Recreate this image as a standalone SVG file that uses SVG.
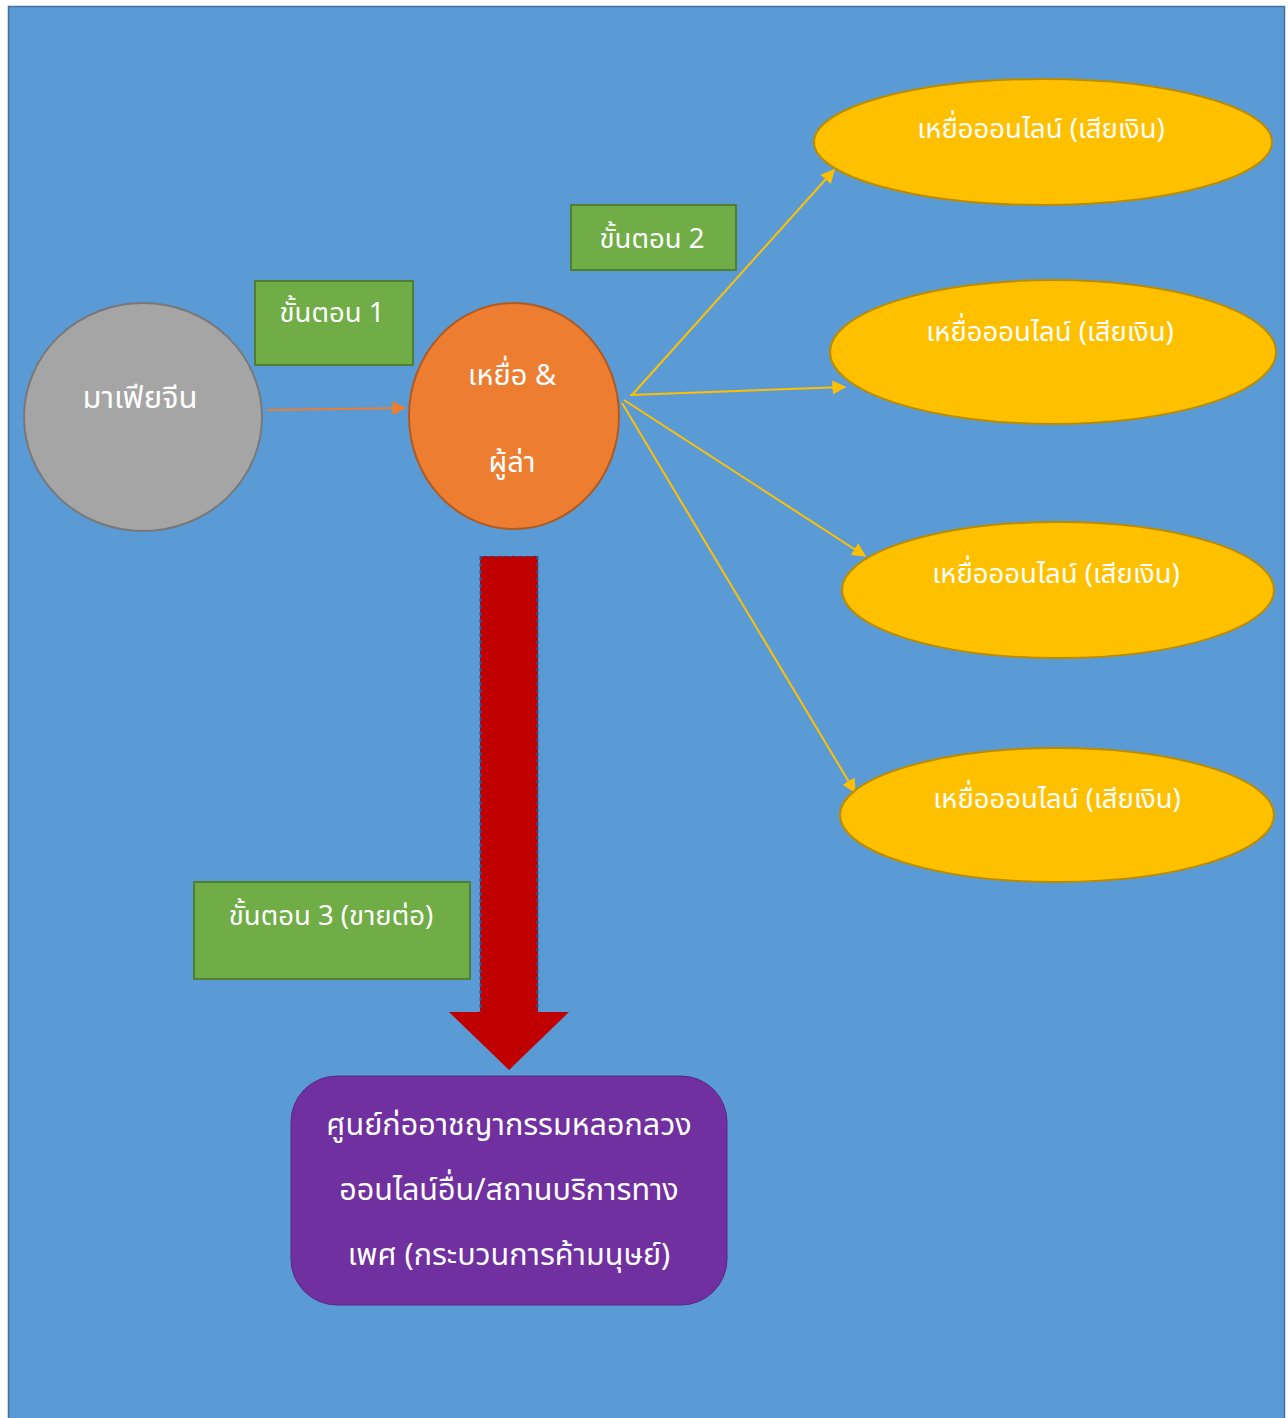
<svg xmlns="http://www.w3.org/2000/svg" width="1288" height="1418" viewBox="0 0 1288 1418">
<defs>
<style>
.t{font-family:"Noto Sans Thai","Tahoma","DejaVu Sans","Noto Sans",sans-serif;fill:#ffffff;text-anchor:middle;dominant-baseline:central;font-size:27.5px}
.big{font-size:30.5px}
.mid{font-size:29px}
.maf{font-size:31px}
.step{fill:#70ad47;stroke:#507e32;stroke-width:2}
.victim{fill:#ffc000;stroke:#bc8c00;stroke-width:2}
.yl{stroke:#ffc000;stroke-width:2;fill:none}
</style>
<marker id="ay" viewBox="0 0 10 10" refX="9" refY="5" markerWidth="7" markerHeight="7" orient="auto" markerUnits="strokeWidth"><path d="M0,0 L10,5 L0,10 z" fill="#ffc000"/></marker>
<marker id="ao" viewBox="0 0 10 10" refX="9" refY="5" markerWidth="7" markerHeight="7" orient="auto" markerUnits="strokeWidth"><path d="M0,0 L10,5 L0,10 z" fill="#ed7d31"/></marker>
</defs>
<rect x="0" y="0" width="1288" height="1418" fill="#ffffff"/>
<rect x="8.5" y="6.5" width="1276" height="1420" fill="#5b9bd5" stroke="#41719c" stroke-width="1.5"/>

<g id="connectors">
<line x1="267" y1="410" x2="405" y2="408" stroke="#ed7d31" stroke-width="2" marker-end="url(#ao)"/>
<line class="yl" x1="632" y1="395" x2="834" y2="170" marker-end="url(#ay)"/>
<line class="yl" x1="630" y1="395" x2="845" y2="387" marker-end="url(#ay)"/>
<line class="yl" x1="624" y1="400" x2="865" y2="556" marker-end="url(#ay)"/>
<line class="yl" x1="622" y1="403" x2="855" y2="792" marker-end="url(#ay)"/>
</g>

<g id="bigarrow">
<path d="M480,556 L538,556 L538,1012 L569,1012 L509,1070 L449,1012 L480,1012 Z" fill="#c00000"/>
<line x1="480.5" y1="556" x2="480.5" y2="1012" stroke="#2f5597" stroke-width="2" stroke-dasharray="4,3"/>
<line x1="537.5" y1="556" x2="537.5" y2="1012" stroke="#2f5597" stroke-width="2" stroke-dasharray="4,3"/>
<line x1="480" y1="556.5" x2="538" y2="556.5" stroke="#2f5597" stroke-width="1" stroke-dasharray="4,3"/>
</g>

<g id="mafia">
<ellipse cx="143" cy="417" rx="119" ry="114" fill="#a5a5a5" stroke="#787878" stroke-width="2"/>
<text class="t maf" x="140" y="398">มาเฟียจีน</text>
</g>

<g id="victim-predator">
<ellipse cx="514" cy="416" rx="105" ry="113" fill="#ed7d31" stroke="#ae5a21" stroke-width="2"/>
<text class="t mid" x="512" y="376">เหยื่อ &amp;</text>
<text class="t mid" x="512" y="463">ผู้ล่า</text>
</g>

<g id="step1">
<rect class="step" x="255" y="281" width="158" height="84"/>
<text class="t" x="332" y="313">ขั้นตอน 1</text>
</g>

<g id="step2">
<rect class="step" x="571" y="205" width="165" height="65"/>
<text class="t" x="652" y="239">ขั้นตอน 2</text>
</g>

<g id="step3">
<rect class="step" x="194" y="882" width="276" height="97"/>
<text class="t" x="331" y="916">ขั้นตอน 3 (ขายต่อ)</text>
</g>

<g id="victim1">
<ellipse class="victim" cx="1043" cy="142" rx="229" ry="63"/>
<text class="t" x="1041" y="129">เหยื่อออนไลน์ (เสียเงิน)</text>
</g>
<g id="victim2">
<ellipse class="victim" cx="1053" cy="352" rx="223" ry="72"/>
<text class="t" x="1050" y="332">เหยื่อออนไลน์ (เสียเงิน)</text>
</g>
<g id="victim3">
<ellipse class="victim" cx="1058" cy="590" rx="216" ry="68"/>
<text class="t" x="1056" y="574">เหยื่อออนไลน์ (เสียเงิน)</text>
</g>
<g id="victim4">
<ellipse class="victim" cx="1057" cy="815" rx="217" ry="67"/>
<text class="t" x="1057" y="799">เหยื่อออนไลน์ (เสียเงิน)</text>
</g>

<g id="scam-center">
<rect x="291" y="1076" width="436" height="229" rx="46" ry="46" fill="#7030a0" stroke="#5a2680" stroke-width="1"/>
<text class="t big" x="509" y="1126">ศูนย์ก่ออาชญากรรมหลอกลวง</text>
<text class="t big" x="509" y="1191">ออนไลน์อื่น/สถานบริการทาง</text>
<text class="t big" x="509" y="1256">เพศ (กระบวนการค้ามนุษย์)</text>
</g>
</svg>
